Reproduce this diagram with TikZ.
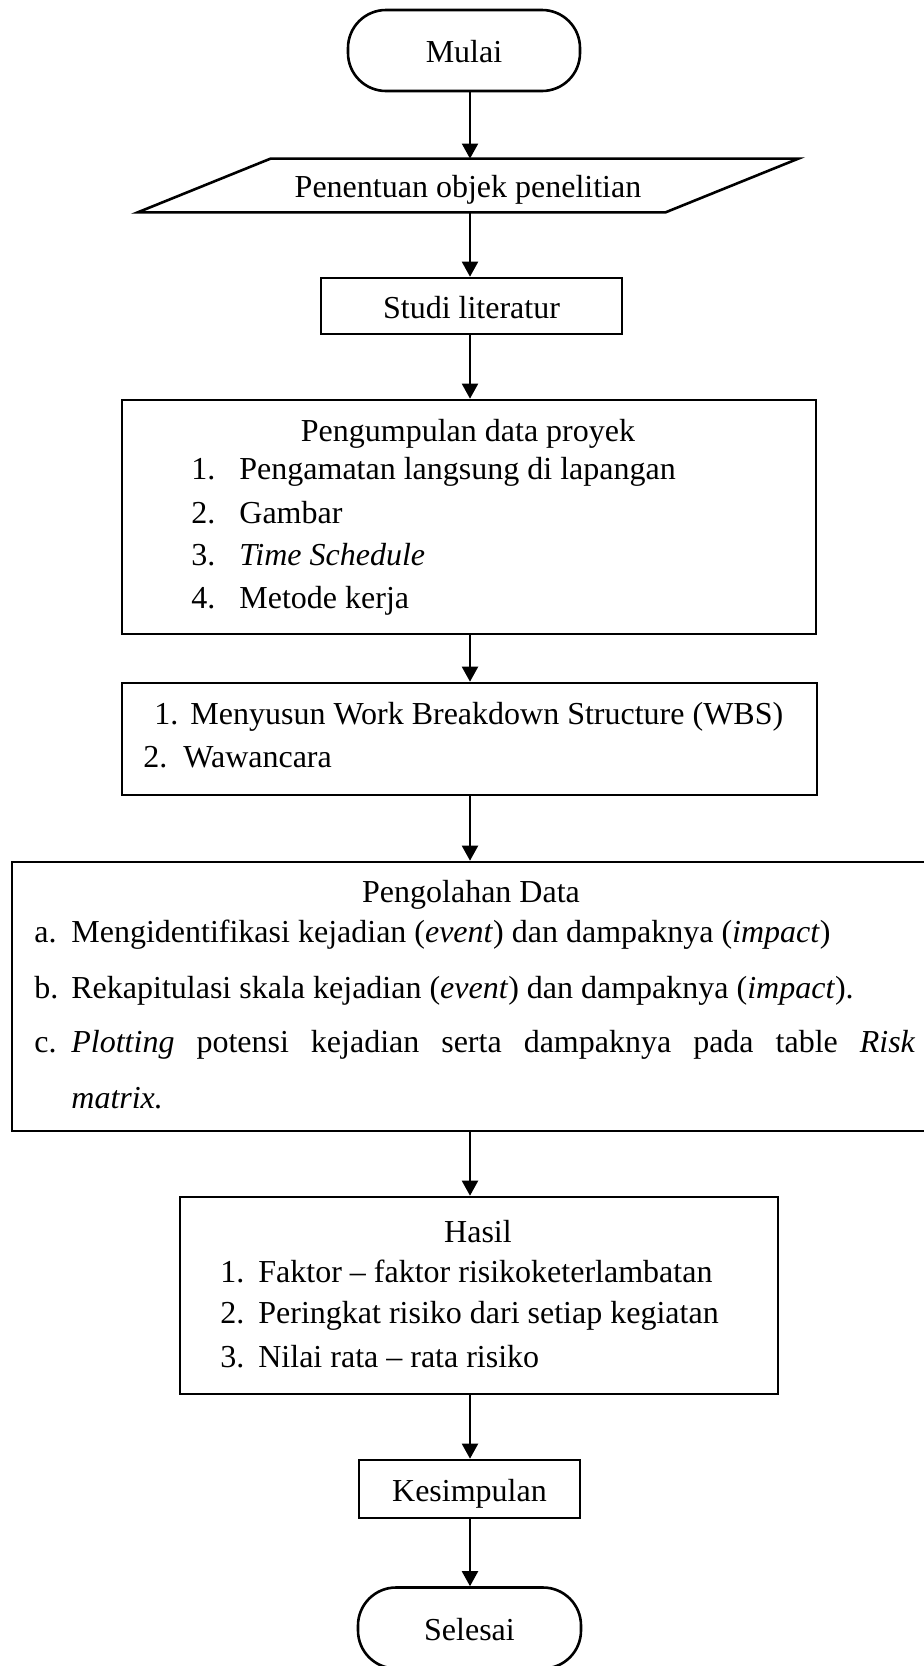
\documentclass[tikz,border=0pt]{standalone}
\usepackage{fontspec}
\setmainfont{Liberation Serif}
\usetikzlibrary{arrows.meta,calc}

\begin{document}
\begin{tikzpicture}[x=0.5pt,y=-0.5pt,
  font=\fontsize{16}{20}\selectfont,
  box/.style={draw,line width=1.3pt,inner sep=0pt,text height=12pt,text depth=0pt},
  arr/.style={line width=1pt,-{Triangle[length=7.5pt,width=8pt]}},
  txt/.style={inner sep=0pt,anchor=base west},
  head/.style={inner sep=0pt,anchor=base}]
\useasboundingbox (0,0) rectangle (924,1666);
\coordinate (col) at (470,0);

% terminators
\node[box,rounded corners=19pt,minimum width=116pt,minimum height=40.5pt] (mulai) at (464,50.5) {Mulai};
\node[box,rounded corners=19pt,minimum width=111.5pt,minimum height=40.5pt] (selesai) at (469.5,1628) {Selesai};

% input: parallelogram drawn round a plain node
\node[inner sep=0pt,text height=12pt,text depth=0pt,minimum width=197pt,minimum height=26.5pt] (pen) at (468,185.5) {Penentuan objek penelitian};
\draw[line width=1.3pt] (pen.north west) -- ([xshift=66.5pt]pen.north east) -- (pen.south east) -- ([xshift=-66.5pt]pen.south west) -- cycle;

\node[box,minimum width=150.5pt,minimum height=28pt] (studi) at (471.5,306) {Studi literatur};

% data collection
\node[box,minimum width=347pt,minimum height=117pt] (kumpul) at (469,517) {};
\node[head] (kumpulT) at (468,441) {Pengumpulan data proyek};
\node[txt] (k1) at (191,479) {\makebox[24pt][l]{1.}Pengamatan langsung di lapangan};
\node[txt] (k2) at (191,523) {\makebox[24pt][l]{2.}Gambar};
\node[txt] (k3) at (191,565) {\makebox[24pt][l]{3.}\textit{Time Schedule}};
\node[txt] (k4) at (191,608) {\makebox[24pt][l]{4.}Metode kerja};

\node[box,minimum width=347.5pt,minimum height=56pt] (wbs) at (469.5,739) {};
\node[txt] (w1) at (154,724) {\makebox[18pt][l]{1.}Menyusun Work Breakdown Structure (WBS)};
\node[txt] (w2) at (143,767) {\makebox[20pt][l]{2.}Wawancara};

% processing (right side runs off the page)
\node[box,minimum width=464pt,minimum height=134.5pt] (olah) at (476,996.5) {};
\node[head] (olahT) at (471,902) {Pengolahan Data};
\node[txt] (o1) at (34,942) {\makebox[18.5pt][l]{a.}Mengidentifikasi kejadian (\textit{event}) dan dampaknya (\textit{impact})};
\node[txt] (o2) at (34,998) {\makebox[18.5pt][l]{b.}Rekapitulasi skala kejadian (\textit{event}) dan dampaknya (\textit{impact}).};
\node[txt] (o3) at (34,1052) {\makebox[18.5pt][l]{c.}\makebox[422pt][s]{\textit{Plotting} potensi kejadian serta dampaknya pada table \textit{Risk}}};
\node[txt] (o4) at (71,1108) {\textit{matrix.}};

% results
\node[box,minimum width=299pt,minimum height=98.5pt] (hasil) at (479,1295.5) {};
\node[head] (hasilT) at (478,1242) {Hasil};
\node[txt] (h1) at (220,1282) {\makebox[19pt][l]{1.}Faktor -- faktor risikoketerlambatan};
\node[txt] (h2) at (220,1323) {\makebox[19pt][l]{2.}Peringkat risiko dari setiap kegiatan};
\node[txt] (h3) at (220,1367) {\makebox[19pt][l]{3.}Nilai rata -- rata risiko};

\node[box,minimum width=110.5pt,minimum height=29pt] (simpul) at (469.5,1489) {Kesimpulan};

% flow
\draw[arr] (mulai.south -| col) -- (pen.north -| col);
\draw[arr] (pen.south -| col) -- (studi.north -| col);
\draw[arr] (studi.south -| col) -- (kumpul.north -| col);
\draw[arr] (kumpul.south -| col) -- (wbs.north -| col);
\draw[arr] (wbs.south -| col) -- (olah.north -| col);
\draw[arr] (olah.south -| col) -- (hasil.north -| col);
\draw[arr] (hasil.south -| col) -- (simpul.north -| col);
\draw[arr] (simpul.south -| col) -- (selesai.north -| col);
\end{tikzpicture}
\end{document}
